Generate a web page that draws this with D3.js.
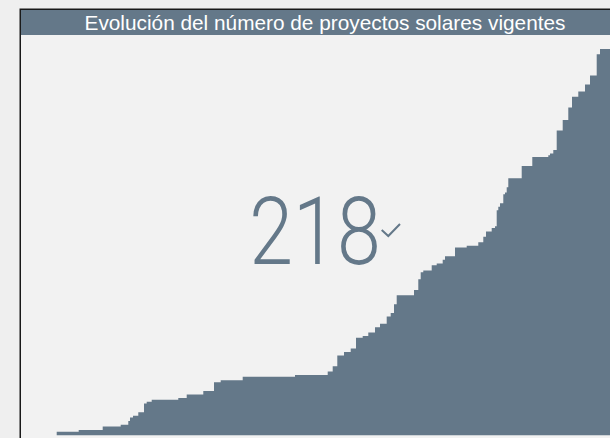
<!DOCTYPE html>
<html lang="es">
<head>
    <meta charset="UTF-8">
    <title>Proyectos solares vigentes</title>
    <script src="https://d3js.org/d3.v7.min.js"></script>
    <style>
        body {
            margin: 0;
            background-color: #efefef;
            overflow: hidden;
        }

        svg {
            display: block;
        }
    </style>
</head>
<body>
    <svg width="610" height="438" id="chart"></svg>

    <script>
        const titulo = "Evolución del número de proyectos solares vigentes";
        const total = "218";

        // t = tiempo (unidades relativas), proyectos = numero acumulado de proyectos vigentes
        const t = [0, 22, 46, 64, 71.6, 73.3, 76.3, 81.6, 87.3, 90, 95, 121.6, 130, 146.6, 157.3, 164, 186,
            238.3, 271, 276, 280.6, 287.3, 294, 299.3, 306, 311.6, 318.3, 323.3, 330, 334, 337.3, 340,
            357.3, 361.6, 364, 366.6, 375, 380, 386, 388.3, 398.3, 410, 421.6, 426.6, 429.3, 435, 438.3,
            440, 441.6, 443.3, 446.6, 448.3, 450, 451.6, 465, 475.6, 491.6, 493.3, 496.6, 500, 506,
            511.6, 515.3, 521.6, 528.3, 533.3, 540, 543.3, 560];
        const proyectos = [2, 3, 5, 6, 8, 10, 11, 13, 18, 19, 20, 21, 23, 25, 30, 31, 33,
            34, 36, 39, 45, 47, 49, 55, 56, 58, 61, 63, 67, 69, 74, 79,
            82, 88, 92, 93, 96, 97, 99, 101, 106, 107, 109, 112, 115, 117, 118,
            127, 129, 131, 136, 137, 140, 145, 152, 157, 158, 159, 161, 172, 178,
            185, 191, 194, 198, 203, 215, 218, 218];

        const datos = t.map((d, i) => ({ t: d, v: proyectos[i] }));

        const color = "#647889";
        const svg = d3.select("#chart");

        // panel
        svg.append("rect")
            .attr("x", 20.25).attr("y", 9.25)
            .attr("width", 620).attr("height", 440)
            .attr("fill", "#f2f2f2")
            .attr("stroke", "#1a1a1a")
            .attr("stroke-width", 1.5);

        svg.append("rect")
            .attr("x", 21).attr("y", 10)
            .attr("width", 620).attr("height", 25)
            .attr("fill", color);

        svg.append("text")
            .attr("x", 325).attr("y", 30)
            .attr("text-anchor", "middle")
            .style("font-family", "'Liberation Sans', Arial, sans-serif")
            .style("font-size", "20.8px")
            .style("fill", "#ffffff")
            .text(titulo);

        // escalas
        const x = d3.scaleLinear().domain([0, 553.3]).range([56.7, 610]);
        const y = d3.scaleLinear().domain([0, 218]).range([435.3, 49]);

        const area = d3.area()
            .curve(d3.curveStepAfter)
            .x(d => x(d.t))
            .y0(y(0))
            .y1(d => y(d.v));

        svg.append("path")
            .datum(datos)
            .attr("d", area)
            .attr("fill", color);

        // numero grande
        svg.append("text")
            .attr("transform", "translate(315,264) scale(0.84,1)")
            .attr("text-anchor", "middle")
            .style("font-family", "Roboto, sans-serif")
            .style("font-weight", 300)
            .style("font-size", "94px")
            .style("fill", color)
            .text(total);

        svg.append("path")
            .attr("d", "M381.7,230 L388.3,236 L400,224")
            .attr("fill", "none")
            .attr("stroke", color)
            .attr("stroke-width", 2);
    </script>
</body>
</html>
